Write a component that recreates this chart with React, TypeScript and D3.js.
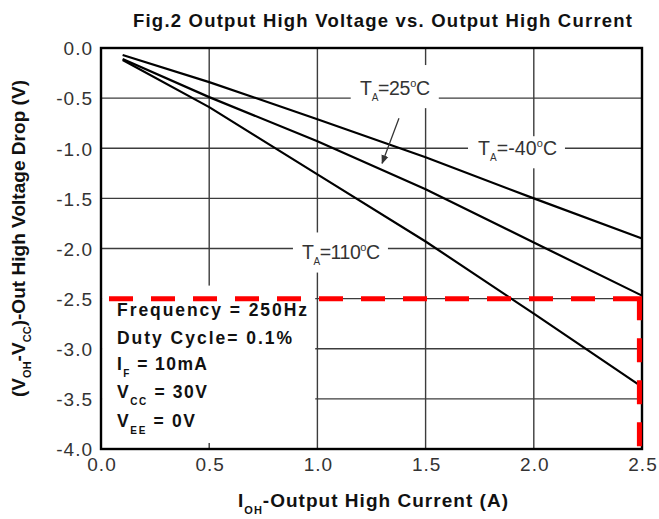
import React, { useRef, useEffect } from "react";
import * as d3 from "d3";

// data
const currents = [0.1, 0.5, 1.0, 1.5, 2.0, 2.5];
const dropMinus40 = [-0.07, -0.34, -0.71, -1.09, -1.5, -1.9];
const drop25 = [-0.11, -0.49, -0.93, -1.41, -1.94, -2.47];
const drop110 = [-0.12, -0.59, -1.26, -1.93, -2.65, -3.38];

const xTicks = [0.0, 0.5, 1.0, 1.5, 2.0, 2.5];
const yTicks = [0.0, -0.5, -1.0, -1.5, -2.0, -2.5, -3.0, -3.5, -4.0];

const W = 659;
const H = 519;

const App: React.FC = () => {
  const svgRef = useRef<SVGSVGElement | null>(null);

  useEffect(() => {
    if (!svgRef.current) return;
    const svg = d3.select(svgRef.current);
    svg.selectAll("*").remove();

    const margin = { top: 48, right: 17, bottom: 70, left: 101 };
    const x = d3.scaleLinear().domain([0, 2.5]).range([margin.left, W - margin.right]);
    const y = d3.scaleLinear().domain([-4, 0]).range([H - margin.bottom, margin.top]);
    const font = "'Liberation Sans', Arial, sans-serif";

    svg.append("rect").attr("width", W).attr("height", H).attr("fill", "#fff");

    // grid
    const grid = svg.append("g").attr("stroke", "#3c3c3c").attr("stroke-width", 1.4);
    grid.selectAll("line.v")
      .data(xTicks.slice(1, -1))
      .join("line")
      .attr("x1", (d) => x(d)).attr("x2", (d) => x(d))
      .attr("y1", y(0)).attr("y2", y(-4));
    grid.selectAll("line.h")
      .data(yTicks.slice(1, -1))
      .join("line")
      .attr("x1", x(0)).attr("x2", x(2.5))
      .attr("y1", (d) => y(d)).attr("y2", (d) => y(d));

    // white patches behind the labels and the condition box
    const patches = [
      { x0: 1.154, x1: 1.561, y0: -0.17, y1: -0.6 },
      { x0: 1.696, x1: 2.144, y0: -0.88, y1: -1.2 },
      { x0: 0.887, x1: 1.326, y0: -1.84, y1: -2.24 },
      { x0: 0.005, x1: 0.99, y0: -2.37, y1: -3.94 },
    ];
    svg.append("g").selectAll("rect")
      .data(patches)
      .join("rect")
      .attr("x", (d) => x(d.x0))
      .attr("y", (d) => y(d.y0))
      .attr("width", (d) => x(d.x1) - x(d.x0))
      .attr("height", (d) => y(d.y1) - y(d.y0))
      .attr("fill", "#fff");

    // curves
    const line = d3.line<[number, number]>().x((d) => x(d[0])).y((d) => y(d[1]));
    [dropMinus40, drop25, drop110].forEach((vals) => {
      svg.append("path")
        .datum(currents.map((c, i) => [c, vals[i]] as [number, number]))
        .attr("d", line)
        .attr("fill", "none")
        .attr("stroke", "#000")
        .attr("stroke-width", 2.2)
        .attr("stroke-linejoin", "round");
    });

    // frame
    svg.append("rect")
      .attr("x", x(0)).attr("y", y(0))
      .attr("width", x(2.5) - x(0)).attr("height", y(-4) - y(0))
      .attr("fill", "none").attr("stroke", "#000").attr("stroke-width", 2.4);

    // red dashed limit
    svg.append("line")
      .attr("x1", x(0.037)).attr("x2", x(2.487))
      .attr("y1", y(-2.5)).attr("y2", y(-2.5))
      .attr("stroke", "#ff0000").attr("stroke-width", 5).attr("stroke-dasharray", "24 18");
    svg.append("line")
      .attr("x1", x(2.488)).attr("x2", x(2.488))
      .attr("y1", y(-2.5) - 2.5).attr("y2", y(-4))
      .attr("stroke", "#ff0000").attr("stroke-width", 5).attr("stroke-dasharray", "24 18");

    // axes labels
    const xAxis = d3.axisBottom(x).tickValues(xTicks).tickSize(0).tickFormat((d) => (+d).toFixed(1));
    const gx = svg.append("g").attr("transform", `translate(0,${y(-4)})`).call(xAxis);
    gx.select(".domain").remove();
    gx.selectAll("text")
      .attr("y", 9).attr("dy", "0.71em").attr("dx", 0.5)
      .attr("font-family", font).attr("font-size", 19)
      .attr("letter-spacing", 1).attr("fill", "#333");

    const yAxis = d3.axisLeft(y).tickValues(yTicks).tickSize(0).tickFormat((d) => (+d).toFixed(1));
    const gy = svg.append("g").attr("transform", `translate(${x(0)},0)`).call(yAxis);
    gy.select(".domain").remove();
    gy.selectAll("text")
      .attr("x", -8).attr("dy", "0.36em")
      .attr("font-family", font).attr("font-size", 19)
      .attr("letter-spacing", 1).attr("fill", "#333");

    // title
    svg.append("text")
      .attr("x", 133).attr("y", 26.5)
      .attr("textLength", 499).attr("lengthAdjust", "spacing")
      .attr("font-family", font).attr("font-weight", "bold").attr("font-size", 18.5)
      .attr("fill", "#111")
      .text("Fig.2 Output High Voltage vs. Output High Current");

    // x title
    const xt = svg.append("text")
      .attr("x", 238).attr("y", 507)
      .attr("textLength", 270).attr("lengthAdjust", "spacing")
      .attr("font-family", font).attr("font-weight", "bold").attr("font-size", 19)
      .attr("fill", "#111");
    xt.append("tspan").text("I");
    xt.append("tspan").attr("dy", 7).attr("font-size", 11).text("OH");
    xt.append("tspan").attr("dy", -7).text("-Output High Current (A)");

    // y title
    const yt = svg.append("text")
      .attr("transform", "translate(25,397) rotate(-90)")
      .attr("textLength", 317).attr("lengthAdjust", "spacing")
      .attr("font-family", font).attr("font-weight", "bold").attr("font-size", 19)
      .attr("fill", "#111");
    yt.append("tspan").text("(V");
    yt.append("tspan").attr("dy", 6).attr("font-size", 11).text("OH");
    yt.append("tspan").attr("dy", -6).text("-V");
    yt.append("tspan").attr("dy", 6).attr("font-size", 11).text("CC");
    yt.append("tspan").attr("dy", -6).text(")-Out High Voltage Drop (V)");

    // temperature labels
    const temps = [
      { left: 1.197, base: -0.47, t: "=25", w: 70 },
      { left: 1.742, base: -1.07, t: "=-40", w: 79 },
      { left: 0.929, base: -2.1, t: "=110", w: 78 },
    ];
    temps.forEach((d) => {
      const tx = svg.append("text")
        .attr("x", x(d.left)).attr("y", y(d.base))
        .attr("textLength", d.w).attr("lengthAdjust", "spacing")
        .attr("font-family", font).attr("font-size", 19.5).attr("fill", "#333");
      tx.append("tspan").text("T");
      tx.append("tspan").attr("dy", 6).attr("font-size", 10).text("A");
      tx.append("tspan").attr("dy", -6).text(d.t);
      tx.append("tspan").attr("dy", -8).attr("font-size", 11).text("o");
      tx.append("tspan").attr("dy", 8).text("C");
    });

    // arrow to 25C curve
    const defs = svg.append("defs");
    defs.append("marker")
      .attr("id", "arr").attr("viewBox", "0 0 10 10")
      .attr("refX", 9).attr("refY", 5)
      .attr("markerWidth", 9).attr("markerHeight", 9)
      .attr("markerUnits", "userSpaceOnUse")
      .attr("orient", "auto")
      .append("path").attr("d", "M0,1 L10,5 L0,9 Z").attr("fill", "#333");
    svg.append("line")
      .attr("x1", x(1.377)).attr("y1", y(-0.7))
      .attr("x2", x(1.299)).attr("y2", y(-1.15))
      .attr("stroke", "#333").attr("stroke-width", 1.3)
      .attr("marker-end", "url(#arr)");

    // conditions box
    const rows = [
      { main: "Frequency = 250Hz", w: 190 },
      { main: "Duty Cycle= 0.1%", w: 175 },
      { pre: "I", sub: "F", post: " = 10mA", w: 90 },
      { pre: "V", sub: "CC", post: " = 30V", w: 90 },
      { pre: "V", sub: "EE", post: " = 0V", w: 78 },
    ];
    const baselines = [-2.67, -2.95, -3.21, -3.49, -3.78];
    rows.forEach((r, i) => {
      const t = svg.append("text")
        .attr("x", x(0.074)).attr("y", y(baselines[i]))
        .attr("textLength", r.w).attr("lengthAdjust", "spacing")
        .attr("font-family", font).attr("font-weight", "bold").attr("font-size", 17.5)
        .attr("fill", "#111");
      if (r.main) {
        t.text(r.main);
      } else {
        t.append("tspan").text(r.pre!);
        t.append("tspan").attr("dy", 7).attr("font-size", 10).text(r.sub!);
        t.append("tspan").attr("dy", -7).text(r.post!);
      }
    });
  }, []);

  return (
    <svg
      ref={svgRef}
      width={W}
      height={H}
      style={{ position: "absolute", left: 0, top: 0 }}
    ></svg>
  );
};

export default App;
